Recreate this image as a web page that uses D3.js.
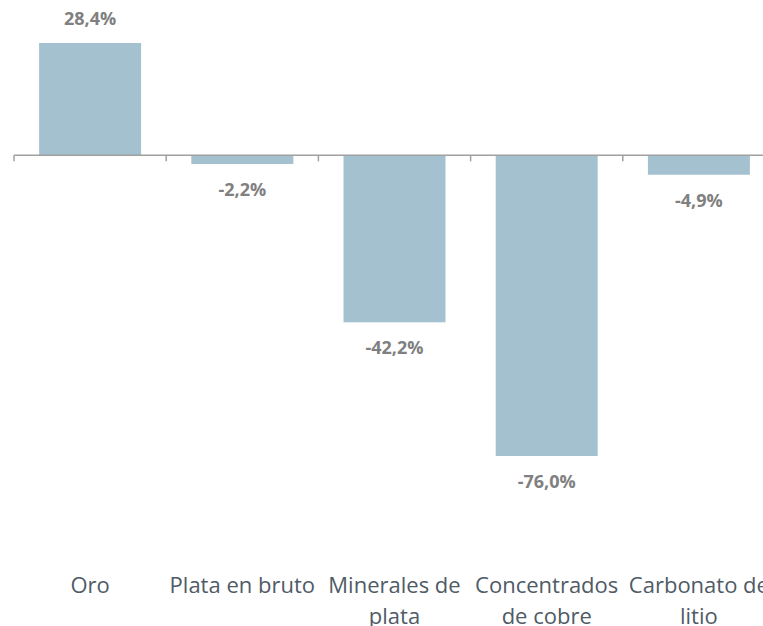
<!DOCTYPE html>
<html>
<head>
<meta charset="utf-8">
<script src="https://cdn.jsdelivr.net/npm/d3@7"></script>
<style>
  body { margin: 0; background: #fff; overflow: hidden; }
</style>
</head>
<body>
<div id="chart"></div>
<script>
// data
var categories = [["Oro"], ["Plata en bruto"], ["Minerales de", "plata"], ["Concentrados", "de cobre"], ["Carbonato de", "litio"]];
var values = [28.4, -2.2, -42.2, -76.0, -4.9];

var width = 763, height = 626;
var x0 = 14, x1 = 775;

var svg = d3.select("#chart")
  .append("svg")
    .attr("width", width)
    .attr("height", height)
    .style("display", "block");

var x = d3.scaleBand()
  .domain(d3.range(values.length))
  .range([x0, x1])
  .paddingInner(0.33)
  .paddingOuter(0.165);

var y = d3.scaleLinear()
  .domain([-76, 28.4])
  .range([456, 43]);

// bars
svg.selectAll("rect.bar")
  .data(values)
  .enter().append("rect")
    .attr("class", "bar")
    .attr("x", function(d, i) { return x(i); })
    .attr("y", function(d) { return y(Math.max(0, d)); })
    .attr("width", x.bandwidth())
    .attr("height", function(d) { return Math.abs(y(d) - y(0)); })
    .attr("fill", "#a3c1cf");

// axis line with ticks between categories
var step = x.step();
svg.append("line")
  .attr("x1", x0).attr("x2", width)
  .attr("y1", y(0)).attr("y2", y(0))
  .attr("stroke", "#a0a0a0")
  .attr("stroke-width", 1.5);

svg.selectAll("line.tick")
  .data(d3.range(values.length + 1))
  .enter().append("line")
    .attr("class", "tick")
    .attr("x1", function(i) { return x0 + i * step; })
    .attr("x2", function(i) { return x0 + i * step; })
    .attr("y1", y(0))
    .attr("y2", y(0) + 6)
    .attr("stroke", "#a0a0a0")
    .attr("stroke-width", 1.5);

// value labels
var fmt = function(v) { return v.toFixed(1).replace(".", ",") + "%"; };
svg.selectAll("text.val")
  .data(values)
  .enter().append("text")
    .attr("class", "val")
    .attr("x", function(d, i) { return x(i) + x.bandwidth() / 2; })
    .attr("y", function(d) { return d >= 0 ? y(d) - 18 : y(d) + 32; })
    .attr("text-anchor", "middle")
    .style("font-family", "'Open Sans', sans-serif")
    .style("font-weight", "bold")
    .style("font-size", "18px")
    .style("fill", "#808080")
    .text(fmt);

// category labels
var cat = svg.selectAll("text.cat")
  .data(categories)
  .enter().append("text")
    .attr("class", "cat")
    .attr("x", function(d, i) { return x(i) + x.bandwidth() / 2; })
    .attr("y", 593)
    .attr("text-anchor", "middle")
    .style("font-family", "'Open Sans', sans-serif")
    .style("font-size", "22px")
    .style("fill", "#4f5b66");

cat.selectAll("tspan")
  .data(function(d) { return d; })
  .enter().append("tspan")
    .attr("x", function() { return d3.select(this.parentNode).attr("x"); })
    .attr("dy", function(d, j) { return j === 0 ? 0 : 31; })
    .text(function(d) { return d; });
</script>
</body>
</html>
